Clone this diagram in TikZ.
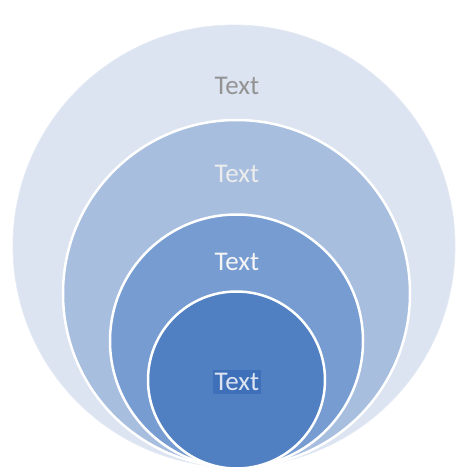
\documentclass[tikz,border=0pt]{standalone}
\usepackage{fontspec}
\setmainfont{Carlito}
\usetikzlibrary{positioning}

\definecolor{ringA}{RGB}{220,228,241}
\definecolor{ringB}{RGB}{167,190,223}
\definecolor{ringC}{RGB}{118,156,209}
\definecolor{ringD}{RGB}{80,128,194}
\definecolor{markbox}{RGB}{62,112,186}

\begin{document}
\begin{tikzpicture}[
    x=1pt, y=-1pt,
    % Define ring style
    ring/.style={circle, draw=white, line width=2.5pt, inner sep=0pt},
    % Define label style
    lbl/.style={font=\fontsize{27}{27}\selectfont, inner sep=1pt}
]
    \useasboundingbox (0,0) rectangle (455,471);

    % Rings (all touching at the bottom)
    \node[ring, draw=ringA!80!white, line width=0.8pt, fill=ringA, minimum size=442pt] (outer) at (234,246) {};
    \node[ring, fill=ringB, minimum size=347pt] (second) at (236.5,293.5) {};
    \node[ring, fill=ringC, minimum size=253pt] (third) at (236.5,341) {};
    \node[ring, fill=ringD, minimum size=177pt] (inner) at (236.5,380) {};

    % Labels
    \node[lbl, text=gray!85!white] (outerlbl) at (237,86) {Text};
    \node[lbl, text=gray!15!white] (secondlbl) at (237,174) {Text};
    \node[lbl, text=gray!8!white] (thirdlbl) at (237,262) {Text};
    \node[lbl, text=ringA, fill=markbox, inner xsep=2pt, inner ysep=3pt] (innerlbl) at (237,382) {Text};

\end{tikzpicture}
\end{document}
